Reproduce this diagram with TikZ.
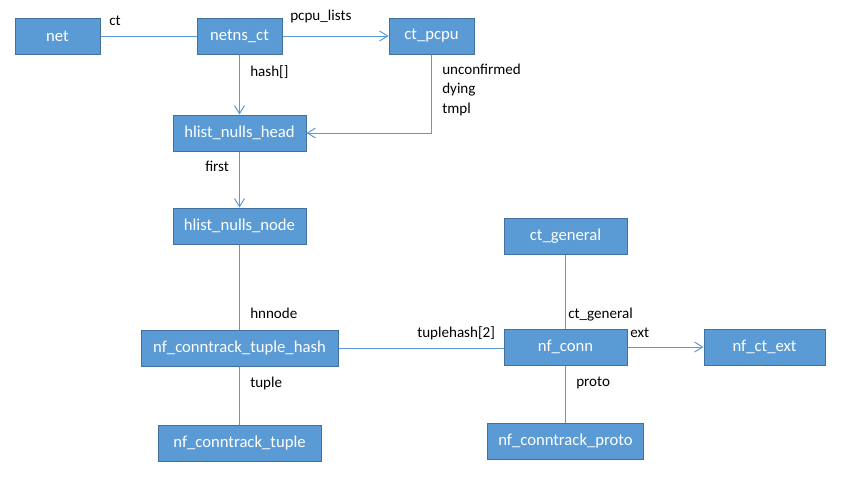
\documentclass[tikz,border=0pt]{standalone}
\usepackage{fontspec}
\setmainfont{Carlito}
\usetikzlibrary{positioning,arrows.meta}
\definecolor{boxblue}{RGB}{91,155,213}
\definecolor{boxedge}{RGB}{65,113,156}

\begin{document}
\begin{tikzpicture}[x=0.75pt,y=-0.75pt,
    structbox/.style={rectangle, draw=boxedge, line width=0.75pt, fill=boxblue, text=white,
        font=\fontsize{12.5pt}{15pt}\selectfont, minimum height=27pt, inner sep=0pt},
    link/.style={draw=boxblue, line width=0.75pt},
    ptr/.style={link, -{Straight Barb[length=6pt,width=7.5pt]}},
    field/.style={anchor=west, font=\fontsize{11.3pt}{13pt}\selectfont, inner sep=0pt,
        text height=1.6ex, text depth=0.5ex}]
    \useasboundingbox (0,0) rectangle (847,480);

    % top row
    \node[structbox, minimum width=63.75pt] (net) at (57.5,36) {net};
    \node[structbox, minimum width=63.75pt] (netnsct) at (239.5,36) {netns\_ct};
    \node[structbox, minimum width=63.75pt] (ctpcpu) at (431.5,36) {ct\_pcpu};

    % hash chain
    \node[structbox, minimum width=99.75pt] (nullshead) at (239.5,133) {hlist\_nulls\_head};
    \node[structbox, minimum width=99.75pt] (nullsnode) at (239.5,226) {hlist\_nulls\_node};
    \node[structbox, minimum width=147.75pt] (tuplehash) at (239.5,348) {nf\_conntrack\_tuple\_hash};
    \node[structbox, minimum width=122.25pt] (tuple) at (239.5,443) {nf\_conntrack\_tuple};

    % conntrack entry
    \node[structbox, minimum width=92.25pt] (ctgeneral) at (565.5,236) {ct\_general};
    \node[structbox, minimum width=92.25pt] (nfconn) at (565.5,347) {nf\_conn};
    \node[structbox, minimum width=90.75pt] (ctext) at (764.5,347) {nf\_ct\_ext};
    \node[structbox, minimum width=117pt] (ctproto) at (565.5,441.5) {nf\_conntrack\_proto};

    % connectors
    \draw[link] (net) -- (netnsct);
    \draw[ptr] (netnsct) -- (ctpcpu);
    \draw[ptr] (netnsct) -- (nullshead);
    \draw[ptr] (ctpcpu.south) |- (nullshead.east);
    \draw[ptr] (nullshead) -- (nullsnode);
    \draw[link] (nullsnode) -- (tuplehash);
    \draw[link] (tuplehash) -- (tuple);
    \draw[link] (tuplehash.east) -- (nfconn.west |- tuplehash.east);
    \draw[link] (ctgeneral) -- (nfconn);
    \draw[ptr] (nfconn) -- (ctext);
    \draw[link] (nfconn) -- (ctproto);

    % field names
    \node[field] (lblct) at (109,22) {ct};
    \node[field] (lblpcpu) at (290,17) {pcpu\_lists};
    \node[field] (lblhash) at (250,73) {hash[]};
    \node[field] (lblunconf) at (442,71) {unconfirmed};
    \node[field] (lbldying) at (442,90) {dying};
    \node[field] (lbltmpl) at (442,110) {tmpl};
    \node[field] (lblfirst) at (205,168) {first};
    \node[field] (lblhnnode) at (250,315) {hnnode};
    \node[field] (lbltuplehash) at (417,334) {tuplehash[2]};
    \node[field] (lbltuple) at (250,384) {tuple};
    \node[field] (lblgeneral) at (568,315) {ct\_general};
    \node[field] (lblext) at (630,334) {ext};
    \node[field] (lblproto) at (576,383) {proto};
\end{tikzpicture}
\end{document}
